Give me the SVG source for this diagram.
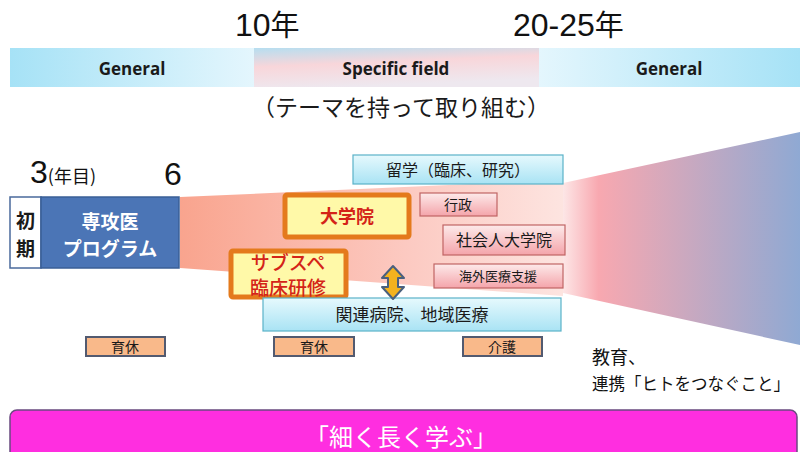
<svg xmlns="http://www.w3.org/2000/svg" width="805" height="452" viewBox="0 0 805 452">
<defs>
<linearGradient id="gL" x1="0" y1="0" x2="1" y2="0"><stop offset="0" stop-color="#a6e2f6"/><stop offset="1" stop-color="#e4f6fd"/></linearGradient>
<linearGradient id="gR" x1="0" y1="0" x2="1" y2="0"><stop offset="0" stop-color="#e4f6fd"/><stop offset="1" stop-color="#a6e2f6"/></linearGradient>
<linearGradient id="gS" x1="0" y1="0" x2="0.3" y2="1"><stop offset="0" stop-color="#b6def0"/><stop offset="0.45" stop-color="#f8d6da"/><stop offset="1" stop-color="#eee8ef"/></linearGradient>
<linearGradient id="gF" x1="0" y1="0" x2="1" y2="0"><stop offset="0" stop-color="#f9a48e"/><stop offset="0.6" stop-color="#fccac2"/><stop offset="1" stop-color="#fde4e0"/></linearGradient>
<linearGradient id="gT" x1="0" y1="0" x2="1" y2="0"><stop offset="0" stop-color="#fde6e6"/><stop offset="0.15" stop-color="#f8a8b0"/><stop offset="1" stop-color="#8fa9d3"/></linearGradient>
<linearGradient id="gC" x1="0" y1="0" x2="0" y2="1"><stop offset="0" stop-color="#e6f9fd"/><stop offset="1" stop-color="#a9e3f4"/></linearGradient>
<linearGradient id="gP" x1="0" y1="0" x2="0" y2="1"><stop offset="0" stop-color="#fdeaea"/><stop offset="1" stop-color="#f4a4aa"/></linearGradient>
</defs>
<style>
.jp{font-family:"Noto Sans CJK JP","Noto Sans",sans-serif}
.num{font-family:"Liberation Sans",Arial,sans-serif}
.band{font-family:"Open Sans","Noto Sans",sans-serif;font-weight:bold;font-size:17px;fill:#1a1a1a}
.cyan{fill:url(#gC);stroke:#5ab2c8;stroke-width:1.2}
.pink{fill:url(#gP);stroke:#c06464;stroke-width:1.2}
.yel{fill:#fff9a8;stroke:#e47a1c;stroke-width:5}
.peach{fill:#f9b98a;stroke:#525a70;stroke-width:2}
.t{font-family:"Noto Sans CJK JP",sans-serif;fill:#1a1a1a;text-anchor:middle}
.r{font-family:"Noto Sans CJK JP",sans-serif;fill:#d42418;text-anchor:middle;font-weight:bold}
</style>
<rect width="805" height="452" fill="#ffffff"/>

<g id="years">
<text x="235" y="36" class="num" font-size="32" fill="#111">10<tspan class="jp" font-size="29">年</tspan></text>
<text x="513" y="36" class="num" font-size="32" fill="#111">20-25<tspan class="jp" font-size="29">年</tspan></text>
</g>

<g id="band">
<rect x="10" y="48" width="244" height="39" fill="url(#gL)"/>
<rect x="254" y="48" width="285" height="39" fill="url(#gS)"/>
<rect x="539" y="48" width="261" height="39" fill="url(#gR)"/>
<text x="132" y="75" class="band" text-anchor="middle">General</text>
<text x="396" y="75" class="band" text-anchor="middle">Specific field</text>
<text x="669" y="75" class="band" text-anchor="middle">General</text>
</g>

<text x="401" y="116" class="t" font-size="23">（テーマを持って取り組む）</text>

<g id="funnel">
<polygon points="180,197 563,180 563,296 180,268" fill="url(#gF)"/>
<polygon points="563,183 800,132 800,345 563,293" fill="url(#gT)"/>
</g>

<g id="labels36">
<text x="30" y="183" class="num" font-size="32" fill="#111">3<tspan class="jp" font-size="18">(年目)</tspan></text>
<text x="164" y="185" class="num" font-size="32" fill="#111">6</text>
</g>

<g id="shoki">
<rect x="10" y="197" width="31" height="71" fill="#ffffff" stroke="#4a6a9c" stroke-width="1.5"/>
<text x="25.5" y="228" class="t" font-size="19" font-weight="bold">初</text>
<text x="25.5" y="256" class="t" font-size="19" font-weight="bold">期</text>
</g>

<g id="senkoui">
<rect x="41" y="197" width="138" height="71" fill="#4b75b6" stroke="#3a5f96" stroke-width="1.5"/>
<text x="110" y="229" class="t" font-size="19" font-weight="bold" style="fill:#fff">専攻医</text>
<text x="110" y="256" class="t" font-size="19" font-weight="bold" style="fill:#fff">プログラム</text>
</g>

<g id="ryugaku">
<rect x="353" y="155" width="210" height="29" class="cyan"/>
<text x="458" y="176" class="t" font-size="16">留学（臨床、研究）</text>
</g>

<g id="daigakuin">
<rect x="285" y="195" width="124" height="42" class="yel" rx="2"/>
<text x="347" y="223" class="r" font-size="18">大学院</text>
</g>

<g id="gyosei">
<rect x="420" y="193" width="77" height="23" class="pink"/>
<text x="458" y="210" class="t" font-size="14">行政</text>
</g>

<g id="shakaijin">
<rect x="443" y="225" width="122" height="30" class="pink"/>
<text x="504" y="246" class="t" font-size="16">社会人大学院</text>
</g>

<g id="kaigai">
<rect x="434" y="264" width="129" height="24" class="pink"/>
<text x="498" y="281" class="t" font-size="13">海外医療支援</text>
</g>

<g id="subspe">
<rect x="231" y="251" width="115" height="46" class="yel" rx="2"/>
<text x="288" y="270" class="r" font-size="19" style="font-weight:500">サブスペ</text>
<text x="288" y="295" class="r" font-size="19" style="font-weight:500">臨床研修</text>
</g>

<g id="kanren">
<rect x="263" y="298" width="298" height="33" class="cyan"/>
<text x="412" y="321" class="t" font-size="17">関連病院、地域医療</text>
</g>

<g id="connectors">
<polygon points="393,266 404,278 398,278 398,287 404,287 393,299 382,287 388,287 388,278 382,278" fill="#f4b21e" stroke="#4a607e" stroke-width="2" stroke-linejoin="round"/>
</g>

<g id="ikukyu1">
<rect x="86" y="337" width="79" height="19" class="peach"/>
<text x="125" y="352" class="t" font-size="14">育休</text>
</g>
<g id="ikukyu2">
<rect x="274" y="337" width="80" height="19" class="peach"/>
<text x="314" y="352" class="t" font-size="14">育休</text>
</g>
<g id="kaigo">
<rect x="463" y="337" width="79" height="19" class="peach"/>
<text x="502" y="352" class="t" font-size="14">介護</text>
</g>

<g id="kyoiku">
<text x="592" y="364" class="jp" font-size="18" fill="#111">教育、</text>
<text x="592" y="390" class="jp" font-size="17" fill="#111" textLength="198" lengthAdjust="spacingAndGlyphs">連携「ヒトをつなぐこと」</text>
</g>

<g id="manabu">
<rect x="10" y="410" width="787" height="55" rx="7" fill="#ff2ee0" stroke="#6a4a80" stroke-width="1.5"/>
<text x="401" y="446" class="t" font-size="24" style="fill:#fff">「細く長く学ぶ」</text>
</g>
</svg>
